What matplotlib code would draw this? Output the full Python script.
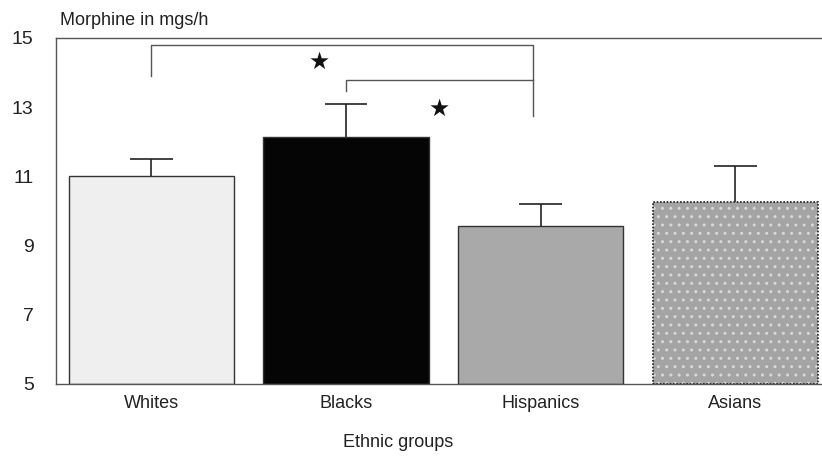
import matplotlib
matplotlib.use("Agg")
import matplotlib.pyplot as plt

plt.rcParams['font.family'] = ['Liberation Sans', 'DejaVu Sans']

# Mean morphine dose per group with upper error (SD)
groups = ["Whites", "Blacks", "Hispanics", "Asians"]
means = [11.0, 12.15, 9.55, 10.25]
errors = [0.5, 0.95, 0.65, 1.05]
colors = ["#efefef", "#050505", "#a9a9a9", "#a4a4a4"]

fig = plt.figure(figsize=(8.22, 4.57), dpi=100)
ax = fig.add_axes([0.068, 0.16, 0.932, 0.757])

x = list(range(len(groups)))
heights = [m - 5 for m in means]
bars = ax.bar(x, heights, bottom=5, width=0.85, color=colors,
              edgecolor="#333333", linewidth=1.0, zorder=2)

# dotted screen on the last bar
ax.bar(x[3], heights[3], bottom=5, width=0.85, color="none",
       edgecolor="#d8d8d8", hatch="..", linewidth=0, zorder=2.5)
ax.bar(x[3], heights[3], bottom=5, width=0.85, color="none",
       edgecolor="#222222", linestyle=(0, (1, 1)), linewidth=1.2, zorder=2.6)
bars[3].set_linewidth(0)

# upper error bars only
tops = [m + e for m, e in zip(means, errors)]
ax.vlines(x, means, tops, color="#222222", lw=1.2, zorder=3)
ax.hlines(tops, [i - 0.11 for i in x], [i + 0.11 for i in x],
          color="#222222", lw=1.2, zorder=3)

# significance brackets
lc = "#555555"
ax.plot([0, 0, 1.96, 1.96], [13.9, 14.8, 14.8, 12.74], color=lc, lw=1.0)
ax.plot([1.0, 1.0, 1.96], [13.46, 13.78, 13.78], color=lc, lw=1.0)
ax.text(0.86, 14.3, "★", fontsize=17, ha="center", va="center",
        family="DejaVu Sans", color="#111111")
ax.text(1.48, 12.95, "★", fontsize=17, ha="center", va="center",
        family="DejaVu Sans", color="#111111")

ax.set_xlim(-0.49, 3.445)
ax.set_ylim(5, 15)
ax.set_yticks([5, 7, 9, 11, 13, 15])
ax.set_xticks(x)
ax.set_xticklabels(groups)
ax.tick_params(axis="both", length=0, labelsize=13, colors="#222222")
ax.tick_params(axis="y", labelsize=14, pad=16)
ax.tick_params(axis="x", pad=8)

for side in ["left", "top", "bottom"]:
    ax.spines[side].set_color("#555555")
    ax.spines[side].set_linewidth(1.0)
ax.spines["right"].set_visible(False)

ax.set_xlabel("Ethnic groups", fontsize=13, color="#222222")
ax.xaxis.set_label_coords(0.447, -0.145)
fig.text(0.073, 0.955, "Morphine in mgs/h", fontsize=13, color="#222222",
         ha="left", va="center")

fig.savefig("out.png", dpi=100)
